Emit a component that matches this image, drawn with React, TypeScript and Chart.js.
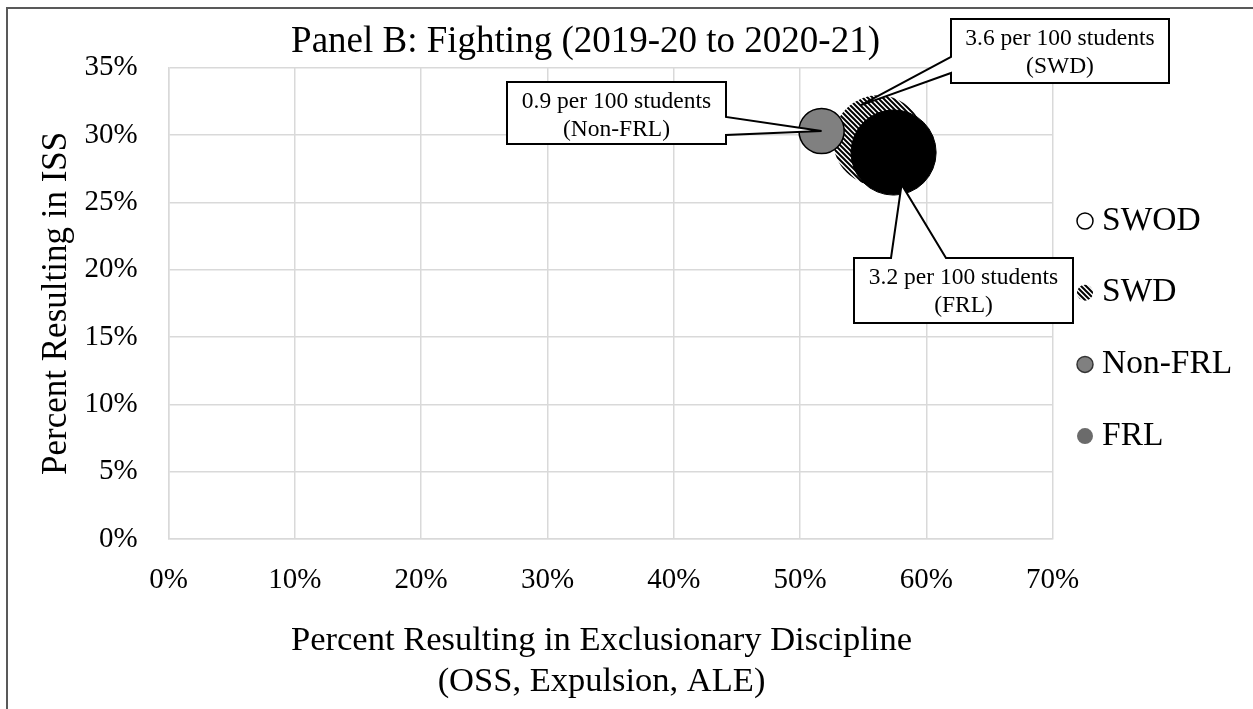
import React, { useEffect, useRef } from "react";
import { Chart, registerables } from "chart.js";

Chart.register(...registerables);

// ---------- data ----------
const seriesNames = ["SWOD", "SWD", "Non-FRL", "FRL"];
// percent resulting in exclusionary discipline (x)
const exclusionaryPct: (number | null)[] = [null, 56.2, 51.7, 57.4];
// percent resulting in ISS (y)
const issPct: (number | null)[] = [null, 29.6, 30.3, 28.7];
// incidents per 100 students (bubble size)
const ratePer100: (number | null)[] = [null, 3.6, 0.9, 3.2];

const xTickValues = [0, 10, 20, 30, 40, 50, 60, 70];
const yTickValues = [0, 5, 10, 15, 20, 25, 30, 35];

const chartTitle = "Panel B: Fighting (2019-20 to 2020-21)";
const xTitleLines = ["Percent Resulting in Exclusionary Discipline", "(OSS, Expulsion, ALE)"];
const yTitle = "Percent Resulting in ISS";
const calloutSeries = ["Non-FRL", "SWD", "FRL"];

// ---------- styling / layout ----------
const FONT = "'Liberation Serif', 'Times New Roman', serif";
const W = 1253;
const H = 709;
const RADIUS_PER_SQRT_RATE = 23.8;

type Side = "left" | "right" | "top";
const calloutLayout: { box: [number, number, number, number]; side: Side; base: [number, number]; tip: [number, number] }[] = [
  { box: [507, 82, 726, 144], side: "right", base: [117, 135], tip: [0, 0] },
  { box: [951, 19, 1169, 83], side: "left", base: [57, 73], tip: [-18, -35] },
  { box: [854, 258, 1073, 323], side: "top", base: [891, 946], tip: [8, 32] },
];

function makeHatch(): CanvasPattern | string {
  const c = document.createElement("canvas");
  const s = 5;
  c.width = s;
  c.height = s;
  const g = c.getContext("2d");
  if (!g) return "#888";
  g.fillStyle = "#ffffff";
  g.fillRect(0, 0, s, s);
  g.strokeStyle = "#000000";
  g.lineWidth = 2;
  g.lineCap = "square";
  g.beginPath();
  g.moveTo(-1, -1);
  g.lineTo(s + 1, s + 1);
  g.moveTo(-1, s - 1);
  g.lineTo(1, s + 1);
  g.moveTo(s - 1, -1);
  g.lineTo(s + 1, 1);
  g.stroke();
  const p = g.createPattern(c, "repeat");
  return p || "#888";
}

export default function App() {
  const ref = useRef<HTMLCanvasElement | null>(null);

  useEffect(() => {
    const canvas = ref.current;
    if (!canvas) return;
    const hatch = makeHatch();

    const fills: any[] = ["#ffffff", hatch, "#808080", "#000000"];
    const borders = ["#000000", "rgba(0,0,0,0)", "#000000", "#000000"];
    const borderWidths = [1.5, 0, 1.5, 1];
    const legendFills: any[] = ["#ffffff", hatch, "#808080", "#6b6b6b"];
    const legendStrokes = ["#000000", null, "#333333", null];
    const drawOrder = [0, 3, 2, 1];

    const datasets = seriesNames.map((name, i) => {
      const x = exclusionaryPct[i];
      const y = issPct[i];
      const r = ratePer100[i];
      const data = x !== null && y !== null && r !== null ? [{ x, y, r: RADIUS_PER_SQRT_RATE * Math.sqrt(r) }] : [];
      return {
        label: name,
        data,
        backgroundColor: fills[i],
        borderColor: borders[i],
        borderWidth: borderWidths[i],
        order: drawOrder[i],
      };
    });

    const overlay = {
      id: "overlay",
      beforeDraw(chart: any) {
        const ctx = chart.ctx;
        ctx.save();
        ctx.fillStyle = "#ffffff";
        ctx.fillRect(0, 0, W, H);
        ctx.strokeStyle = "#595959";
        ctx.lineWidth = 2;
        ctx.beginPath();
        ctx.moveTo(7, H + 5);
        ctx.lineTo(7, 8);
        ctx.lineTo(W + 5, 8);
        ctx.stroke();
        ctx.restore();
      },
      afterDatasetsDraw(chart: any) {
        const ctx = chart.ctx;
        const xs = chart.scales.x;
        const ys = chart.scales.y;
        ctx.save();
        calloutLayout.forEach((c, k) => {
          const idx = seriesNames.indexOf(calloutSeries[k]);
          const px = xs.getPixelForValue(exclusionaryPct[idx] as number) + c.tip[0];
          const py = ys.getPixelForValue(issPct[idx] as number) + c.tip[1];
          const [L, T, R, B] = c.box;
          const [a, b] = c.base;
          ctx.beginPath();
          if (c.side === "right") {
            ctx.moveTo(L, T);
            ctx.lineTo(R, T);
            ctx.lineTo(R, a);
            ctx.lineTo(px, py);
            ctx.lineTo(R, b);
            ctx.lineTo(R, B);
            ctx.lineTo(L, B);
          } else if (c.side === "left") {
            ctx.moveTo(L, T);
            ctx.lineTo(R, T);
            ctx.lineTo(R, B);
            ctx.lineTo(L, B);
            ctx.lineTo(L, b);
            ctx.lineTo(px, py);
            ctx.lineTo(L, a);
          } else {
            ctx.moveTo(L, T);
            ctx.lineTo(a, T);
            ctx.lineTo(px, py);
            ctx.lineTo(b, T);
            ctx.lineTo(R, T);
            ctx.lineTo(R, B);
            ctx.lineTo(L, B);
          }
          ctx.closePath();
          ctx.fillStyle = "#ffffff";
          ctx.fill();
          ctx.strokeStyle = "#000000";
          ctx.lineWidth = 2;
          ctx.lineJoin = "miter";
          ctx.stroke();
          ctx.fillStyle = "#000000";
          ctx.font = `23.5px ${FONT}`;
          ctx.textAlign = "center";
          ctx.textBaseline = "middle";
          const cx = (L + R) / 2;
          ctx.fillText(`${ratePer100[idx]} per 100 students`, cx, T + 20);
          ctx.fillText(`(${calloutSeries[k]})`, cx, T + 48);
        });
        ctx.restore();
      },
      afterDraw(chart: any) {
        const ctx = chart.ctx;
        ctx.save();
        ctx.fillStyle = "#000000";
        ctx.textAlign = "center";
        ctx.textBaseline = "middle";
        ctx.font = `37px ${FONT}`;
        ctx.fillText(chartTitle, 585.5, 42);
        ctx.font = `34.5px ${FONT}`;
        xTitleLines.forEach((t, i) => ctx.fillText(t, 601.5, 641 + i * 41.4));

        // legend
        ctx.textAlign = "left";
        ctx.font = `33.5px ${FONT}`;
        chart.data.datasets.forEach((ds: any, i: number) => {
          const cy = 221 + i * 71.7;
          ctx.beginPath();
          ctx.arc(1085, cy, 8, 0, Math.PI * 2);
          ctx.fillStyle = legendFills[i];
          ctx.fill();
          if (legendStrokes[i]) {
            ctx.strokeStyle = legendStrokes[i] as string;
            ctx.lineWidth = 1.5;
            ctx.stroke();
          }
          ctx.fillStyle = "#000000";
          ctx.fillText(ds.label, 1102, cy);
        });
        ctx.restore();
      },
    };

    const chart = new Chart(canvas, {
      type: "bubble",
      data: { datasets: datasets as any },
      options: {
        animation: false,
        responsive: true,
        maintainAspectRatio: false,
        events: [],
        layout: { padding: { left: 0, top: 67.7, right: W - 1052.7, bottom: 0 } },
        plugins: {
          legend: { display: false },
          title: { display: false },
          tooltip: { enabled: false },
        },
        scales: {
          x: {
            type: "linear",
            min: xTickValues[0],
            max: xTickValues[xTickValues.length - 1],
            afterBuildTicks: (s: any) => {
              s.ticks = xTickValues.map((v) => ({ value: v }));
            },
            afterFit: (s: any) => {
              s.height = H - 539;
            },
            grid: { color: "#d9d9d9", lineWidth: 1.5, drawTicks: false },
            border: { color: "#d9d9d9", width: 1.5 },
            ticks: {
              padding: 24,
              color: "#000000",
              font: { family: FONT, size: 29 },
              callback: (v: any) => `${v}%`,
            },
          },
          y: {
            type: "linear",
            min: yTickValues[0],
            max: yTickValues[yTickValues.length - 1],
            afterBuildTicks: (s: any) => {
              s.ticks = yTickValues.map((v) => ({ value: v }));
            },
            afterFit: (s: any) => {
              s.width = 168.6;
            },
            grid: { color: "#d9d9d9", lineWidth: 1.5, drawTicks: false },
            border: { color: "#d9d9d9", width: 1.5 },
            ticks: {
              padding: 31,
              color: "#000000",
              font: { family: FONT, size: 29 },
              callback: (v: any) => `${v}%`,
            },
            title: {
              display: true,
              text: yTitle,
              color: "#000000",
              font: { family: FONT, size: 35 },
              padding: { top: 36, bottom: 0 },
            },
          },
        },
      },
      plugins: [overlay],
    });

    return () => chart.destroy();
  }, []);

  return (
    <div style={{ position: "fixed", left: 0, top: 0, width: W, height: H, background: "#fff" }}>
      <canvas ref={ref} />
    </div>
  );
}
